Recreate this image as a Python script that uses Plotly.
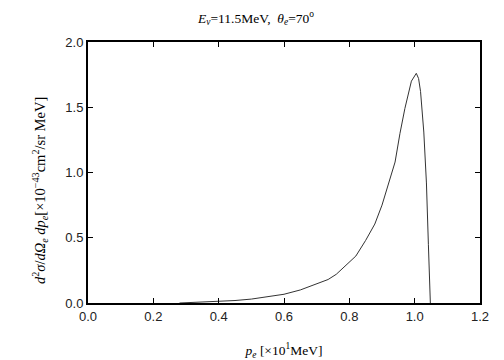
import plotly.graph_objects as go

p_e = [0.28, 0.30, 0.35, 0.40, 0.45, 0.50, 0.55, 0.60, 0.65, 0.70, 0.735, 0.76, 0.79,
       0.82, 0.85, 0.878, 0.90, 0.924, 0.94, 0.955, 0.97, 0.99, 1.005, 1.012, 1.018,
       1.028, 1.036, 1.042, 1.048]
xsec = [0.0, 0.002, 0.006, 0.011, 0.019, 0.03, 0.046, 0.067, 0.1, 0.145, 0.18, 0.22, 0.29,
        0.36, 0.48, 0.605, 0.75, 0.94, 1.08, 1.30, 1.49, 1.70, 1.76, 1.72, 1.62,
        1.31, 0.92, 0.45, 0.0]

x_ticks = [0.0, 0.2, 0.4, 0.6, 0.8, 1.0, 1.2]
y_ticks = [0.0, 0.5, 1.0, 1.5, 2.0]

serif = "Liberation Serif, Times New Roman, serif"
sans = "Liberation Sans, Arial, sans-serif"

fig = go.Figure()
fig.add_trace(go.Scatter(x=p_e, y=xsec, mode="lines",
                         line=dict(color="#333333", width=1), showlegend=False))

axis_common = dict(showline=True, linecolor="black", linewidth=2, mirror="ticks",
                   ticks="inside", ticklen=5, tickcolor="black", tickwidth=1,
                   showgrid=False, zeroline=False, automargin=False,
                   tickfont=dict(family=sans, size=13, color="#222222"))

fig.update_layout(
    width=496, height=352,
    margin=dict(l=80, r=24, t=34, b=57),
    plot_bgcolor="white", paper_bgcolor="white",
    title=dict(text="<i>E<sub>ν</sub></i>=11.5MeV,  <i>θ<sub>e</sub></i>=70<sup>o</sup>",
               x=0.5, xanchor="center", y=0.972, yanchor="middle",
               font=dict(family=serif, size=13.5, color="black")),
    xaxis=dict(range=[0, 1.2], tickvals=x_ticks, ticktext=[f"{v:.1f}" for v in x_ticks],
               title=dict(text="<i>p<sub>e</sub></i> [×10<sup>1</sup>MeV]", standoff=23,
                          font=dict(family=serif, size=13.5, color="black")),
               **axis_common),
    yaxis=dict(range=[0, 2.0], tickvals=y_ticks, ticktext=[f"{v:.1f}" for v in y_ticks],
               **axis_common),
)

fig.add_annotation(
    text="<i>d</i><sup>2</sup><i>σ</i>/<i>d</i><i>Ω<sub>e</sub></i> <i>dp<sub>e</sub></i>[×10<sup>−43</sup>cm<sup>2</sup>/sr MeV]",
    xref="paper", yref="paper", x=-0.1224, y=0.429, xanchor="center", yanchor="middle",
    textangle=-90, showarrow=False,
    font=dict(family=serif, size=14.5, color="black"),
)

fig.write_html("out.html")
